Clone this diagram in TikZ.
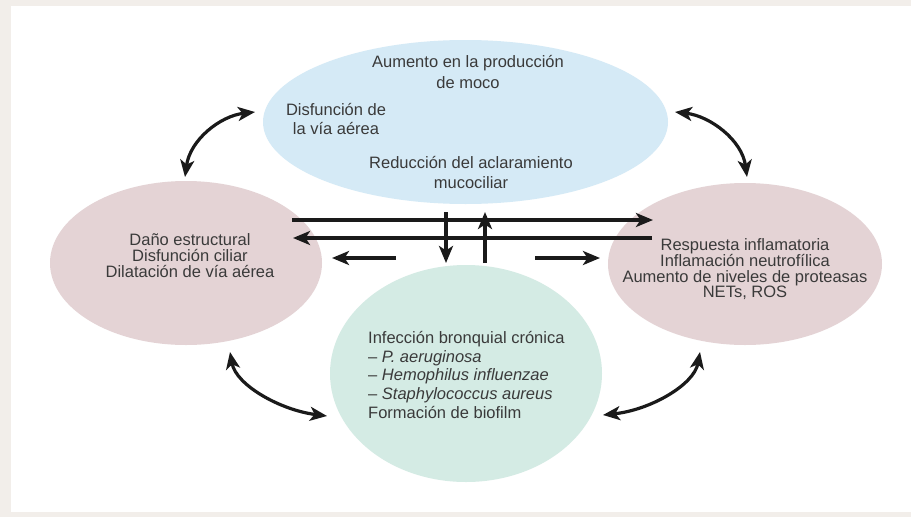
\documentclass[tikz,border=0pt]{standalone}
\usepackage{fontspec}
\setmainfont{Liberation Sans}
\usetikzlibrary{arrows.meta,shapes.geometric}
\definecolor{bgout}{HTML}{F2EEEA}
\definecolor{cblue}{HTML}{D5EAF6}
\definecolor{cpink}{HTML}{E4D3D5}
\definecolor{cgreen}{HTML}{D4EBE4}
\definecolor{txt}{HTML}{3A3A3A}
\definecolor{arrc}{HTML}{1A1A1A}
\begin{document}
\begin{tikzpicture}[x=1pt,y=-1pt,
  bubble/.style={ellipse, inner sep=0pt, draw=none},
  lbl/.style={text=txt, inner sep=0pt, align=center},
  tip/.tip={Stealth[length=17pt,width=14pt,inset=4.5pt]},
  arr/.style={draw=arrc, line width=3.2pt, -tip},
  darr/.style={draw=arrc, line width=3.2pt, tip-tip}]
% background
\fill[bgout] (0,0) rectangle (911,517);
\fill[white] (11,6) rectangle (911,512);
\useasboundingbox (0,0) rectangle (911,517);
% bubbles
\node[bubble, fill=cblue, minimum width=405pt, minimum height=164pt] (top) at (465.5,122) {};
\node[bubble, fill=cpink, minimum width=272pt, minimum height=164pt] (left) at (186,263) {};
\node[bubble, fill=cpink, minimum width=274pt, minimum height=162pt] (right) at (745,264) {};
\node[bubble, fill=cgreen, minimum width=272pt, minimum height=217pt] (bottom) at (466,373.5) {};
% texts
\node[lbl, font=\fontsize{16.5}{21}\selectfont] (t1) at (468,72) {Aumento en la producción\\de moco};
\node[lbl, font=\fontsize{16.5}{19}\selectfont] (t2) at (336,119) {Disfunción de\\la vía aérea};
\node[lbl, font=\fontsize{16.5}{20}\selectfont] (t3) at (471,173) {Reducción del aclaramiento\\mucociliar};
\node[lbl, font=\fontsize{16.5}{16}\selectfont] (l1) at (190,256) {Daño estructural\\Disfunción ciliar\\Dilatación de vía aérea};
\node[lbl, font=\fontsize{16.5}{15.5}\selectfont] (r1) at (745,269) {Respuesta inflamatoria\\Inflamación neutrofílica\\Aumento de niveles de proteasas\\NETs, ROS};
\node[lbl, align=left, anchor=west, font=\fontsize{16.5}{19}\selectfont] (b1) at (368,375) {Infección bronquial crónica\\– \textit{P. aeruginosa}\\– \textit{Hemophilus influenzae}\\– \textit{Staphylococcus aureus}\\Formación de biofilm};
% connector end points
\coordinate (h1s) at (292,220); \coordinate (h1e) at (653,220);
\coordinate (h2s) at (652,238); \coordinate (h2e) at (293,238);
\coordinate (s1s) at (396,258); \coordinate (s1e) at (332,258);
\coordinate (s2s) at (535,258); \coordinate (s2e) at (600,258);
\coordinate (v1s) at (446,212); \coordinate (v1e) at (446,263);
\coordinate (v2s) at (485,263); \coordinate (v2e) at (485,212);
\coordinate (tlA) at (185,177); \coordinate (tlB) at (255,112);
\coordinate (trA) at (675,112); \coordinate (trB) at (747,177);
\coordinate (blA) at (230,352); \coordinate (blB) at (327,416);
\coordinate (brA) at (603,415); \coordinate (brB) at (700,352);
% straight arrows
\draw[arr] (h1s) -- (h1e);
\draw[arr] (h2s) -- (h2e);
\draw[arr] (s1s) -- (s1e);
\draw[arr] (s2s) -- (s2e);
\draw[arr] (v1s) -- (v1e);
\draw[arr] (v2s) -- (v2e);
% curved double arrows
\draw[darr] (tlA) .. controls (190,140) and (220,116) .. (tlB);
\draw[darr] (trA) .. controls (710,116) and (742,140) .. (trB);
\draw[darr] (blA) .. controls (236,385) and (280,410) .. (blB);
\draw[darr] (brA) .. controls (650,410) and (694,385) .. (brB);
\end{tikzpicture}
\end{document}
